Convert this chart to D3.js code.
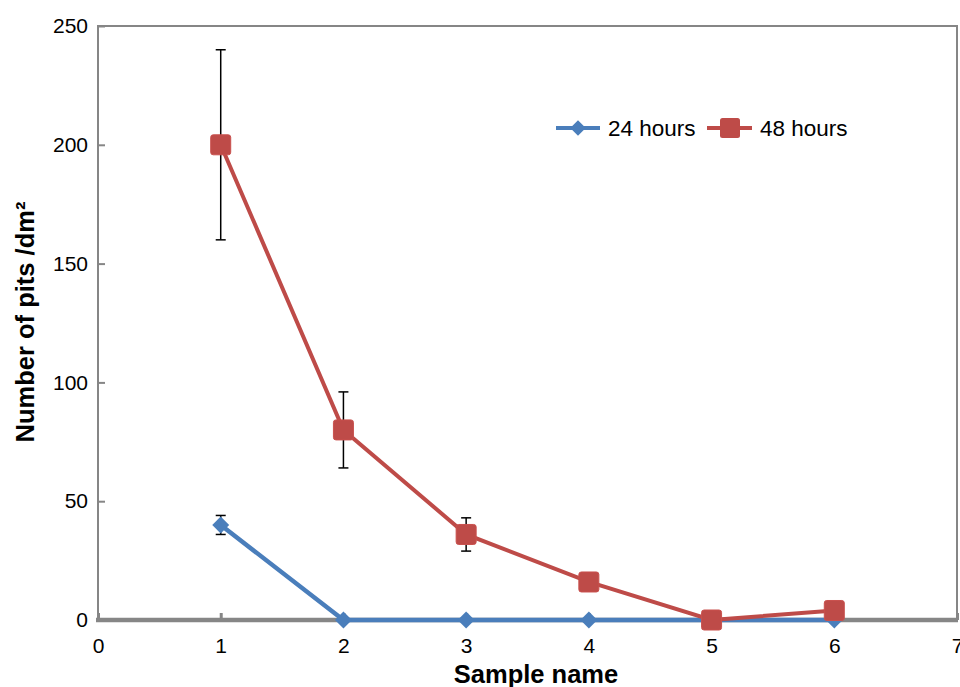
<!DOCTYPE html>
<html><head><meta charset="utf-8">
<script src="https://cdn.jsdelivr.net/npm/d3@7"></script>
<style>body{margin:0;background:#fff}svg{display:block;font-family:"Liberation Sans",Arial,sans-serif}</style>
</head><body><svg id="c" width="960" height="687"></svg>
<script>
const samples = [1, 2, 3, 4, 5, 6];
const hours24 = [40, 0, 0, 0, 0, 0];
const err24 = [4, 0, 0, 0, 0, 0];
const hours48 = [200, 80, 36, 16, 0, 4];
const err48 = [40, 16, 7, 0, 0, 0];
const xTicks = [0, 1, 2, 3, 4, 5, 6, 7];
const yTicks = [0, 50, 100, 150, 200, 250];
const seriesNames = ["24 hours", "48 hours"];

const svg = d3.select("#c");
const x = d3.scaleLinear().domain([0, 7]).range([98, 957]);
const y = d3.scaleLinear().domain([0, 250]).range([620, 26]);
const grey = "#868686", blue = "#4a7ebb", red = "#be4b48";
const FONT = "Liberation Sans, Arial, sans-serif";

// frame
svg.append("path").attr("d", `M${x(0)},${y(0)}V${y(250)}H${x(7)}V${y(0)}`)
  .attr("fill", "none").attr("stroke", grey).attr("stroke-width", 2);

// y axis
const ya = svg.append("g").attr("transform", `translate(${x(0)},0)`)
  .call(d3.axisRight(y).tickValues(yTicks).tickSize(7).tickFormat(d3.format("d")));
ya.select(".domain").remove();
ya.selectAll(".tick line").attr("stroke", grey).attr("stroke-width", 2);
ya.selectAll(".tick text").attr("x", -10).attr("text-anchor", "end")
  .attr("font-size", 21).attr("fill", "#000").attr("font-family", FONT);

// x axis
const xa = svg.append("g").attr("transform", `translate(0,${y(0)})`)
  .call(d3.axisTop(x).tickValues(xTicks).tickSize(7).tickFormat(d3.format("d")));
xa.select(".domain").remove();
xa.selectAll(".tick line").attr("stroke", grey).attr("stroke-width", 3);
xa.selectAll(".tick text").attr("y", 33).attr("font-size", 21).attr("fill", "#000")
  .attr("font-family", FONT);
svg.append("line").attr("x1", x(0) - 2).attr("x2", x(7) + 1).attr("y1", y(0)).attr("y2", y(0))
  .attr("stroke", grey).attr("stroke-width", 4.5);

const line = d3.line().x((d, i) => x(samples[i])).y(d => y(d));

// error bars
function errBars(vals, errs) {
  vals.forEach((v, i) => {
    if (!errs[i]) return;
    const cx = x(samples[i]);
    const g = svg.append("g").attr("stroke", "#000").attr("stroke-width", 1.5);
    g.append("line").attr("x1", cx).attr("x2", cx).attr("y1", y(v + errs[i])).attr("y2", y(v - errs[i]));
    [v + errs[i], v - errs[i]].forEach(e => g.append("line")
      .attr("x1", cx - 5).attr("x2", cx + 5).attr("y1", y(e)).attr("y2", y(e)));
  });
}
errBars(hours48, err48);
errBars(hours24, err24);

// 24 hours series
svg.append("path").datum(hours24).attr("d", line).attr("fill", "none")
  .attr("stroke", blue).attr("stroke-width", 4.5);
svg.selectAll(".dia").data(hours24).join("rect")
  .attr("x", -6).attr("y", -6).attr("width", 12).attr("height", 12)
  .attr("transform", (d, i) => `translate(${x(samples[i])},${y(d)}) rotate(45)`).attr("fill", blue);

// 48 hours series
svg.append("path").datum(hours48).attr("d", line).attr("fill", "none")
  .attr("stroke", red).attr("stroke-width", 4);
svg.selectAll(".sq").data(hours48).join("rect")
  .attr("x", (d, i) => x(samples[i]) - 10).attr("y", d => y(d) - 10)
  .attr("width", 20).attr("height", 20).attr("rx", 2.5)
  .attr("fill", red).attr("stroke", "#c9504d").attr("stroke-width", 1);

// legend
const lg = svg.append("g").attr("transform", "translate(0,128)");
lg.append("line").attr("x1", 556).attr("x2", 600).attr("stroke", blue).attr("stroke-width", 4);
lg.append("rect").attr("x", -5.5).attr("y", -5.5).attr("width", 11).attr("height", 11)
  .attr("transform", "translate(578,0) rotate(45)").attr("fill", blue);
lg.append("text").attr("x", 608).attr("y", 8).attr("font-size", 22.5).text(seriesNames[0]);
lg.append("line").attr("x1", 707).attr("x2", 752).attr("stroke", red).attr("stroke-width", 4);
lg.append("rect").attr("x", 720).attr("y", -10).attr("width", 20).attr("height", 20).attr("rx", 2.5).attr("fill", red);
lg.append("text").attr("x", 760).attr("y", 8).attr("font-size", 22.5).text(seriesNames[1]);

// axis titles
svg.append("text").attr("x", 536).attr("y", 683).attr("text-anchor", "middle")
  .attr("font-size", 25.5).attr("font-weight", "bold").text("Sample name");
svg.append("text").attr("transform", "translate(34,322) rotate(-90)").attr("text-anchor", "middle")
  .attr("font-size", 25.5).attr("font-weight", "bold").text("Number of pits /dm²");
</script></body></html>
